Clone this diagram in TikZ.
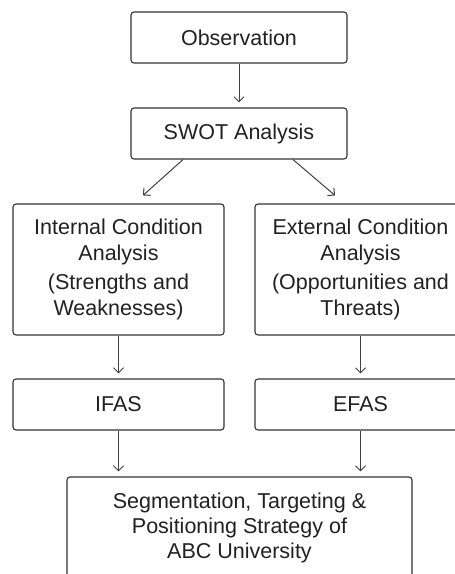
\documentclass[tikz,border=0pt]{standalone}
\usepackage{fontspec}
\setmainfont{Liberation Sans}
\usepackage{tikz}
\usetikzlibrary{arrows.meta}

\begin{document}
\begin{tikzpicture}[x=1pt, y=1pt,
        box/.style={rectangle, draw=black!80, line width=1.1pt, rounded corners=3pt, align=center,
            text=black!87, font=\fontsize{21.5}{26}\selectfont},
        link/.style={-{Straight Barb[length=5pt, width=10pt]}, draw=black!75, line width=1pt}]
            \useasboundingbox (0,0) rectangle (455,-574);
            \clip (0,0) rectangle (455,-574);
            \pgfmathsetmacro{\dy}{96}
            \path (239,-37.5) node[box, minimum width=216, minimum height=51] (obs) {Observation}; % first step
            \path (obs) node[box, minimum width=216, minimum height=51] (swot) at ++(0, -\dy) {SWOT Analysis};
            % internal and external branch
            \path (swot) node[box, minimum width=211, minimum height=131] (int) at ++(-120.5, -136) {Internal Condition\\ Analysis\\[3pt] (Strengths and\\ Weaknesses)};
            \path (swot) node[box, minimum width=211, minimum height=131] (ext) at ++(121.5, -136) {External Condition\\ Analysis\\[3pt] (Opportunities and\\ Threats)};
            \path (int) node[box, minimum width=211, minimum height=51] (ifas) at ++(0, -135) {IFAS}; % internal factors
            \path (ext) node[box, minimum width=211, minimum height=51] (efas) at ++(0, -135) {EFAS}; % external factors
            \path (swot) node[box, minimum width=345, minimum height=102, font=\fontsize{21.5}{25}\selectfont] (stp) at ++(0.5, -394.5) {Segmentation, Targeting \&\\ Positioning Strategy of\\ ABC University}; % final box

            % arrows
            \draw[link, shorten >=5pt] (obs.south) -- (swot.north);
            \draw[link] ([xshift=-56]swot.south) -- ([xshift=24.5, yshift=8]int.north);
            \draw[link] ([xshift=54]swot.south) -- ([xshift=-25.5, yshift=8]ext.north);
            \draw[link, shorten >=5pt] (int.south) -- (ifas.north);
            \draw[link, shorten >=5pt] (ext.south) -- (efas.north);
            \draw[link, shorten >=5pt] (ifas.south) -- (ifas.south |- stp.north);
            \draw[link, shorten >=5pt] (efas.south) -- (efas.south |- stp.north);
        \end{tikzpicture}
\end{document}
